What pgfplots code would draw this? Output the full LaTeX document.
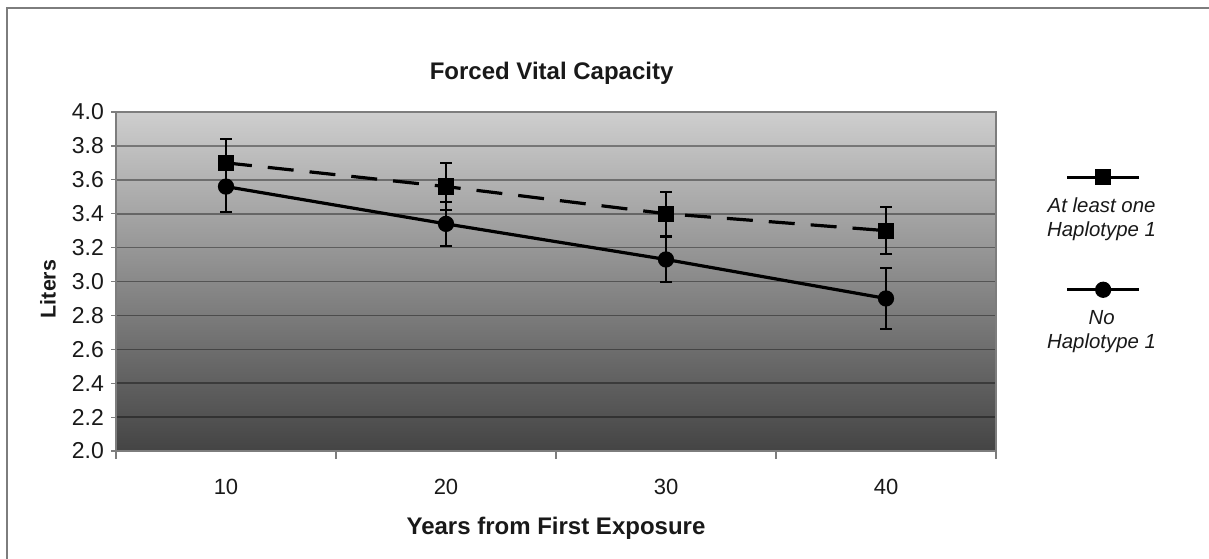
\documentclass[border=0pt]{standalone}
\usepackage{pgfplots}
\pgfplotsset{compat=1.18}
\usepackage{fontspec}
\setmainfont{Liberation Sans}
\definecolor{framec}{RGB}{125,125,125}
\definecolor{topc}{RGB}{206,206,206}
\definecolor{botc}{RGB}{68,68,68}
\definecolor{txt}{RGB}{25,25,25}
\pgfplotstableread{
x y e
0 3.70 0.14
1 3.56 0.14
2 3.40 0.13
3 3.30 0.14
}\haplo
\pgfplotstableread{
x y e
0 3.56 0.15
1 3.34 0.13
2 3.13 0.13
3 2.90 0.18
}\nohaplo
\begin{document}
\begin{tikzpicture}
\path[use as bounding box] (0,0) rectangle (604.5pt,279pt);
\draw[framec, line width=1pt] (3.5pt,-2pt) -- (3.5pt,275pt) -- (606pt,275pt);
\begin{axis}[
 at={(58pt,53.5pt)}, anchor=south west,
 scale only axis, width=440pt, height=169.5pt,
 xmin=-0.5, xmax=3.5, ymin=2, ymax=4,
 axis background/.style={top color=topc, bottom color=botc},
 axis line style={framec, line width=0.8pt},
 ymajorgrids, major grid style={black, opacity=0.38, line width=0.8pt},
 ytick={2,2.2,2.4,2.6,2.8,3,3.2,3.4,3.6,3.8,4},
 yticklabel style={/pgf/number format/fixed, /pgf/number format/fixed zerofill, /pgf/number format/precision=1, font=\fontsize{11.5}{13}\selectfont, text=txt},
 /pgf/number format/assume math mode=true,
 xtick={0,1,2,3}, xticklabels={10,20,30,40},
 xticklabel style={font=\fontsize{11}{13}\selectfont, text=txt, anchor=center, yshift=-15.5pt},
 major x tick style={draw=none},
 minor xtick={-0.5,0.5,1.5,2.5,3.5},
 minor tick length=4pt, major tick length=2.5pt,
 tick align=outside, xtick pos=bottom, ytick pos=left,
 tick style={framec, line width=0.6pt},
 title={Forced Vital Capacity},
 every axis title/.style={font=\bfseries\fontsize{12}{14}\selectfont, text=txt, at={(axis description cs:0.495,1.115)}, anchor=center},
 xlabel={Years from First Exposure},
 ylabel={Liters},
 every axis x label/.style={at={(axis description cs:0.5,-0.227)}, anchor=center, font=\bfseries\fontsize{12}{14}\selectfont, text=txt},
 every axis y label/.style={at={(axis description cs:-0.0773,0.478)}, anchor=center, rotate=90, font=\bfseries\fontsize{10.7}{12}\selectfont, text=txt},
 clip=false,
 legend style={draw=none, fill=none, at={(axis description cs:1.12,0.7727)}, anchor=north,
   font=\itshape\fontsize{10.2}{12}\selectfont, text=txt, cells={align=center}, row sep=31.5pt},
 legend cell align=center,
 error bars/y dir=both, error bars/y explicit,
 error bars/error bar style={black, line width=1pt, solid},
 error bars/error mark options={black, rotate=90, mark size=3pt, line width=1pt, solid},
]
\addplot[black, line width=1.6pt, dash pattern=on 13pt off 8pt, mark=square*, mark size=3.25pt, mark options={solid},
 legend image code/.code={\draw[overlay, solid, mark repeat=2, mark phase=2] plot coordinates {(12pt,20.5pt)(30pt,20.5pt)(48pt,20.5pt)};}]
 table[x=x, y=y, y error=e] {\haplo};
\addlegendentry{At least one\\Haplotype 1}
\addplot[black, line width=1.6pt, mark=*, mark size=3.25pt,
 legend image code/.code={\draw[overlay, solid, mark repeat=2, mark phase=2] plot coordinates {(12pt,20.5pt)(30pt,20.5pt)(48pt,20.5pt)};}]
 table[x=x, y=y, y error=e] {\nohaplo};
\addlegendentry{No\\Haplotype 1}
\end{axis}
\end{tikzpicture}
\end{document}
